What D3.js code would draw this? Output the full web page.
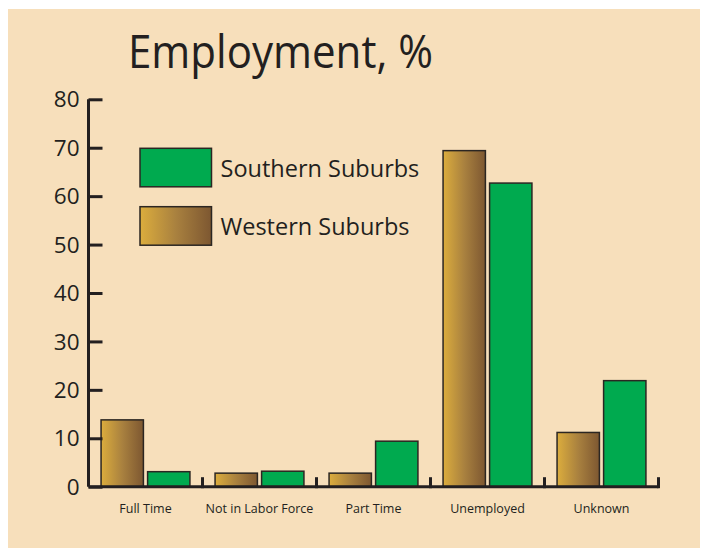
<!DOCTYPE html>
<html><head><meta charset="utf-8">
<script src="https://cdn.jsdelivr.net/npm/d3@7"></script>
<style>html,body{margin:0;padding:0;background:#fff;}svg{display:block;}</style>
</head><body>
<svg id="chart" width="709" height="548"></svg>
<script>
const categories = ["Full Time", "Not in Labor Force", "Part Time", "Unemployed", "Unknown"];
const seriesNames = ["Western Suburbs", "Southern Suburbs"];
const western = [13.8, 2.8, 2.8, 69.4, 11.2];
const southern = [3.1, 3.2, 9.4, 62.7, 21.9];
const yTicks = [0, 10, 20, 30, 40, 50, 60, 70, 80];
const title = "Employment, %";

const FONT = "'Open Sans', 'Noto Sans', sans-serif";
const svg = d3.select("#chart");
svg.append("rect").attr("x", 8).attr("y", 9).attr("width", 692).attr("height", 539).attr("fill", "#f7dfbb");

const defs = svg.append("defs");
const grad = defs.append("linearGradient").attr("id", "wgrad").attr("x1", "0%").attr("x2", "100%").attr("y1", "0%").attr("y2", "0%");
grad.append("stop").attr("offset", "0%").attr("stop-color", "#dcad3d");
grad.append("stop").attr("offset", "50%").attr("stop-color", "#a9813f");
grad.append("stop").attr("offset", "100%").attr("stop-color", "#7d5731");

const x0 = 88.5, x1 = 658.5, yTop = 99.3, yBot = 486.7;
const x = d3.scaleBand().domain(categories).range([x0, x1]).paddingInner(0).paddingOuter(0);
const y = d3.scaleLinear().domain([0, 80]).range([yBot, yTop]);
const sub = d3.scaleBand().domain(seriesNames).range([0, x.bandwidth()]).paddingInner(0.09).paddingOuter(0.27);

const fills = {"Western Suburbs": "url(#wgrad)", "Southern Suburbs": "#00aa4f"};
const data = categories.map((c, i) => ({c, vals: [{s: "Western Suburbs", v: western[i]}, {s: "Southern Suburbs", v: southern[i]}]}));

const g = svg.append("g");
g.selectAll("g.cat").data(data).join("g").attr("class", "cat")
  .attr("transform", d => `translate(${x(d.c)},0)`)
  .selectAll("rect").data(d => d.vals).join("rect")
  .attr("x", d => sub(d.s)).attr("width", sub.bandwidth())
  .attr("y", d => y(d.v)).attr("height", d => yBot - y(d.v))
  .attr("fill", d => fills[d.s]).attr("stroke", "#2b2622").attr("stroke-width", 1.5);

// y axis
const yAxis = d3.axisRight(y).tickValues(yTicks).tickSize(14).tickFormat("");
const ya = svg.append("g").attr("transform", `translate(${x0},0)`).call(yAxis);
ya.select(".domain").attr("d", `M0,${yTop}V${yBot}`).attr("stroke", "#231f20").attr("stroke-width", 3).attr("fill", "none");
ya.selectAll(".tick line").attr("stroke", "#231f20").attr("stroke-width", 3);
svg.append("g").selectAll("text").data(yTicks).join("text")
  .attr("x", 79.5).attr("y", d => y(d)).attr("dy", "0.36em").attr("text-anchor", "end")
  .attr("font-family", FONT).attr("font-size", 22.5).attr("fill", "#231f20").text(d => d);

// x axis
const xa = svg.append("g").attr("transform", `translate(0,${yBot})`);
xa.append("line").attr("x1", x0).attr("x2", x1).attr("y1", 0).attr("y2", 0).attr("stroke", "#231f20").attr("stroke-width", 3);
xa.selectAll("line.t").data(categories.slice(1).concat(["__end"])).join("line").attr("class", "t")
  .attr("x1", (d, i) => x0 + x.step() * (i + 1)).attr("x2", (d, i) => x0 + x.step() * (i + 1))
  .attr("y1", 1.5).attr("y2", -9.5).attr("stroke", "#231f20").attr("stroke-width", 3);
xa.selectAll("text").data(categories).join("text")
  .attr("x", d => x(d) + x.bandwidth() / 2).attr("y", 26).attr("text-anchor", "middle")
  .attr("font-family", FONT).attr("font-size", 12.5).attr("fill", "#231f20").text(d => d);

// title
const t = svg.append("text").attr("x", 128).attr("y", 68).attr("font-family", FONT).attr("font-size", 45)
  .attr("fill", "#231f20").text(title);
t.attr("textLength", 305).attr("lengthAdjust", "spacingAndGlyphs");

// legend
const legend = [{s: "Southern Suburbs", y: 148.3}, {s: "Western Suburbs", y: 206.7}];
const lg = svg.append("g").selectAll("g").data(legend).join("g");
lg.append("rect").attr("x", 140).attr("y", d => d.y).attr("width", 71.5).attr("height", 38.5)
  .attr("fill", d => fills[d.s]).attr("stroke", "#2b2622").attr("stroke-width", 1.5);
lg.append("text").attr("x", 220.5).attr("y", d => d.y + 28.5).attr("font-family", FONT).attr("font-size", 23.5)
  .attr("fill", "#231f20").text(d => d.s);
</script>
</body></html>
